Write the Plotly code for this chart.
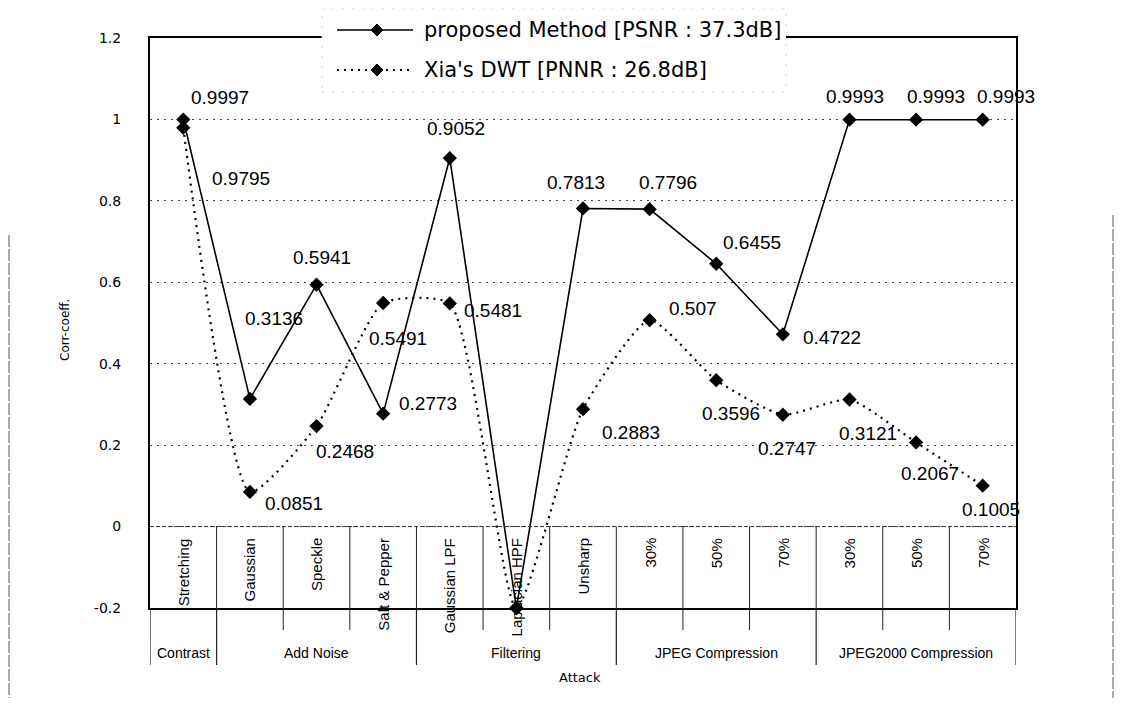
import plotly.graph_objects as go

# ---------------- data ----------------
categories = ["Stretching", "Gaussian", "Speckle", "Salt & Pepper", "Gaussian LPF",
              "Laplacian HPF", "Unsharp", "30%", "50%", "70%", "30%", "50%", "70%"]
groups = ["Contrast", "Add Noise", "Filtering", "JPEG Compression", "JPEG2000 Compression"]
group_sizes = [1, 3, 3, 3, 3]
proposed = [0.9997, 0.3136, 0.5941, 0.2773, 0.9052, -0.2, 0.7813, 0.7796, 0.6455, 0.4722, 0.9993, 0.9993, 0.9993]
xia = [0.9795, 0.0851, 0.2468, 0.5491, 0.5481, -0.2, 0.2883, 0.507, 0.3596, 0.2747, 0.3121, 0.2067, 0.1005]
proposed_name = "proposed Method [PSNR : 37.3dB]"
xia_name = "Xia's DWT [PNNR : 26.8dB]"
tick_vals = [-0.2, 0, 0.2, 0.4, 0.6, 0.8, 1.0, 1.2]
tick_text = ["-0.2", "0", "0.2", "0.4", "0.6", "0.8", "1", "1.2"]

# ---------------- styling / placement ----------------
OFF = 8                                   # page body margin
W, H = 1107, 690
SL, SR, ST, SB = 150, 1016, 38, 608       # plot area in screen px
L, R, T, B = SL - OFF, SR - OFF, ST - OFF, SB - OFF
PW, PH = R - L, B - T

def px(xs_):
    return (xs_ - OFF - L) / PW

def py(ys_):
    return (B - (ys_ - OFF)) / PH

# label offsets (px) relative to the marker: (dx, dy) with dy positive downwards
prop_off = [(37, -22), (24, -80), (5, -27), (45, -10), (6, -30), None, (-7, -26),
            (18, -27), (36, -21), (49, 3), (6, -23), (20, -23), (23, -23)]
xia_off = [(58, 51), (44, 12), (28, 25), (15, 35), (43, 7), None, (48, 23),
           (43, -12), (15, 33), (4, 34), (19, 34), (14, 31), (8, 24)]

LABEL_FONT = dict(family="Liberation Sans, Arial, sans-serif", size=19, color="black")
CAT_FONT = dict(family="Liberation Sans, Arial, sans-serif", size=15, color="black")
GRP_FONT = dict(family="Liberation Sans, Arial, sans-serif", size=14, color="black")
DOT = "2px,5px"

n = len(categories)
xs = list(range(n))

fig = go.Figure()
fig.add_trace(go.Scatter(
    x=xs, y=proposed, name=proposed_name, mode="lines+markers",
    line=dict(color="black", width=1.6),
    marker=dict(symbol="diamond", size=11, color="black"),
    cliponaxis=False, showlegend=False))
fig.add_trace(go.Scatter(
    x=xs, y=xia, name=xia_name, mode="lines+markers",
    line=dict(color="black", width=2.2, dash=DOT, shape="spline", smoothing=0.55),
    marker=dict(symbol="diamond", size=11, color="black"),
    cliponaxis=False, showlegend=False))

ann = []
shapes = []

# data labels
for series, offs in ((proposed, prop_off), (xia, xia_off)):
    for i, v in enumerate(series):
        if offs[i] is None:
            continue
        dx, dy = offs[i]
        ann.append(dict(x=i, y=v, xref="x", yref="y", text=str(v), showarrow=False,
                        xanchor="center", yanchor="middle", xshift=dx, yshift=-dy,
                        font=LABEL_FONT))

# category labels inside the 0 .. -0.2 band
for i, c in enumerate(categories):
    ann.append(dict(x=i, y=py(536), xref="x", yref="paper", text=c, showarrow=False,
                    textangle=-90, xanchor="center", yanchor="top", font=CAT_FONT))

# separators between categories inside the band
for k in range(n - 1):
    shapes.append(dict(type="line", xref="x", yref="y", x0=k + 0.5, x1=k + 0.5, y0=0, y1=-0.2,
                       line=dict(color="#222", width=1)))

# group labels and separators below the axis
start = 0
bounds = [0]
for g, s in zip(groups, group_sizes):
    cx = start - 0.5 + s / 2.0
    ann.append(dict(x=cx, y=py(653), xref="x", yref="paper", text=g, showarrow=False,
                    xanchor="center", yanchor="middle", font=GRP_FONT))
    start += s
    bounds.append(start)
for k in range(n + 1):
    xb = k - 0.5
    long_ = k in bounds
    shapes.append(dict(type="line", xref="x", yref="paper", x0=xb, x1=xb, y0=0,
                       y1=py(665) if long_ else py(630),
                       line=dict(color="#222", width=1.2 if long_ else 1)))

# zero line (dashed)
shapes.append(dict(type="line", xref="paper", yref="y", x0=0, x1=1, y0=0, y1=0,
                   line=dict(color="#333", width=1, dash="4px,2px")))

# faint outer chart-area border (scan)
shapes.append(dict(type="line", xref="paper", yref="paper", x0=px(9), x1=px(9), y0=py(235), y1=py(698),
                   line=dict(color="#555", width=1, dash="12px,2px")))
shapes.append(dict(type="line", xref="paper", yref="paper", x0=px(1113), x1=px(1113), y0=py(215), y1=py(698),
                   line=dict(color="#555", width=1, dash="12px,2px")))

# custom legend box
shapes.append(dict(type="rect", xref="paper", yref="paper", layer="above",
                   x0=px(322), x1=px(786), y0=py(92), y1=py(8),
                   fillcolor="white", line=dict(color="#d0d0d0", width=1, dash="2px,8px")))
for row_y, dash, wdt, name in ((30, "solid", 1.6, proposed_name), (70, DOT, 2.2, xia_name)):
    shapes.append(dict(type="line", xref="paper", yref="paper", layer="above",
                       x0=px(337), x1=px(413), y0=py(row_y), y1=py(row_y),
                       line=dict(color="black", width=wdt, dash=dash)))
    cx, cy, hs = 377, row_y, 6
    path = "M{},{} L{},{} L{},{} L{},{} Z".format(
        px(cx - hs), py(cy), px(cx), py(cy - hs), px(cx + hs), py(cy), px(cx), py(cy + hs))
    shapes.append(dict(type="path", xref="paper", yref="paper", layer="above", path=path,
                       fillcolor="black", line=dict(color="black", width=1)))
    ann.append(dict(x=px(422), y=py(row_y), xref="paper", yref="paper", text=name, showarrow=False,
                    xanchor="left", yanchor="middle",
                    font=dict(family="DejaVu Sans, Liberation Sans, sans-serif", size=21, color="black")))

# axis titles
ann.append(dict(x=px(65), y=py(330), xref="paper", yref="paper", text="Corr-coeff.", showarrow=False,
                textangle=-90, xanchor="center", yanchor="middle",
                font=dict(family="DejaVu Sans, sans-serif", size=12, color="black")))
ann.append(dict(x=px(580), y=py(677), xref="paper", yref="paper", text="Attack", showarrow=False,
                xanchor="center", yanchor="middle",
                font=dict(family="DejaVu Sans, sans-serif", size=13, color="black")))

fig.update_layout(
    width=W, height=H,
    margin=dict(l=L, r=W - R, t=T, b=H - B, pad=0),
    paper_bgcolor="white", plot_bgcolor="white",
    showlegend=False,
    annotations=ann, shapes=shapes,
    xaxis=dict(range=[-0.5, n - 0.5], showticklabels=False, showgrid=False, zeroline=False,
               showline=True, mirror=True, linecolor="black", linewidth=2, ticks=""),
    yaxis=dict(range=[-0.2, 1.2], tickvals=tick_vals, ticktext=tick_text,
               showgrid=True, gridcolor="#444", gridwidth=1, griddash=DOT, zeroline=False,
               showline=True, mirror=True, linecolor="black", linewidth=2, ticks="",
               ticklabelstandoff=24,
               tickfont=dict(family="DejaVu Sans, sans-serif", size=14, color="black")),
)

fig.write_html("out.html")
